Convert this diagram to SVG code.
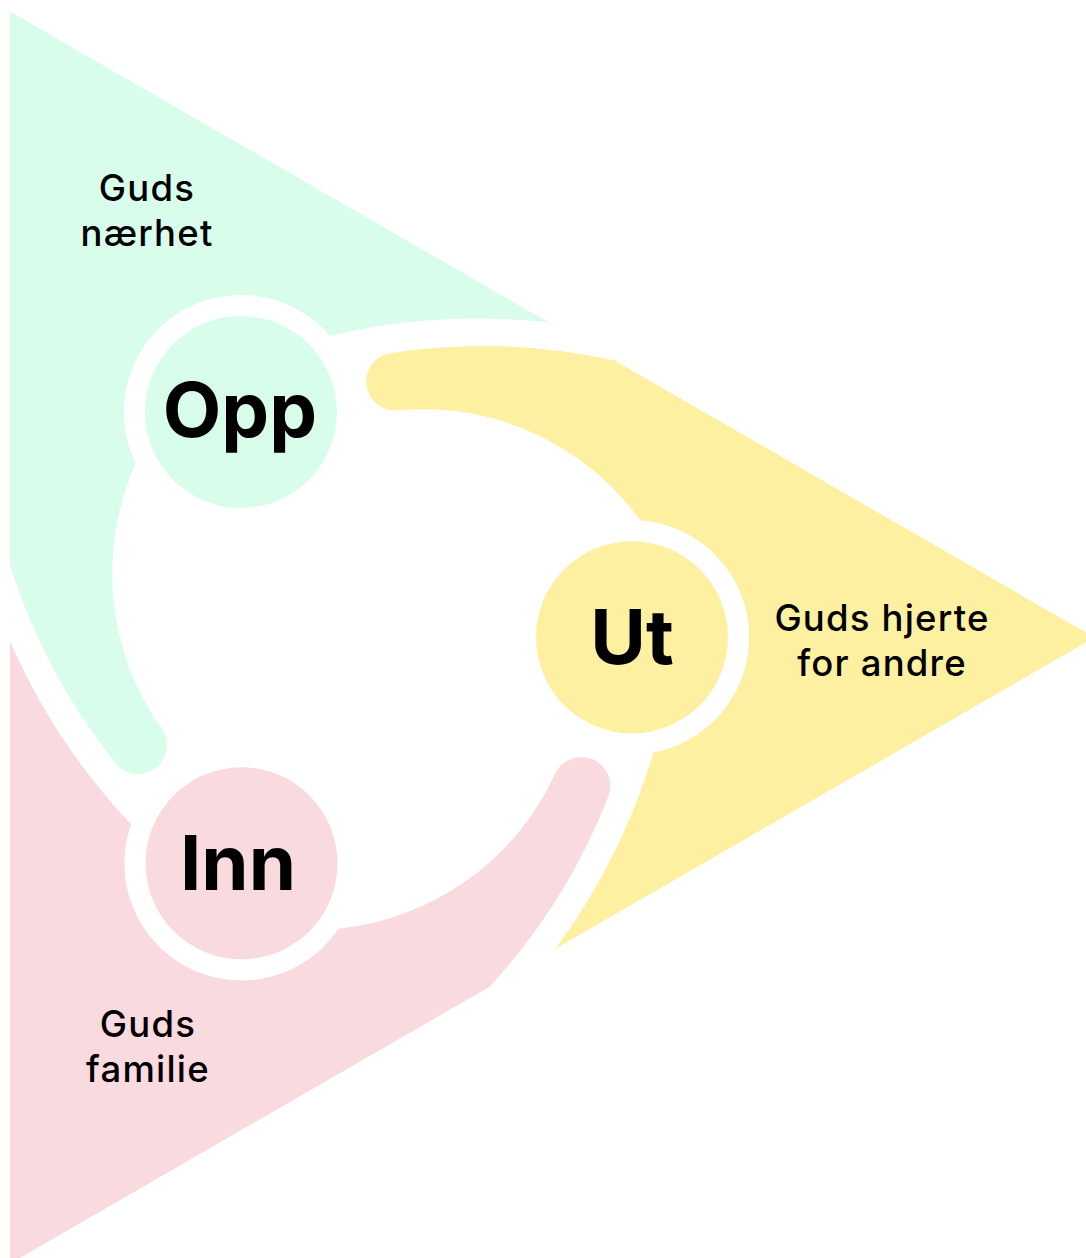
<svg xmlns="http://www.w3.org/2000/svg" width="1086" height="1258" viewBox="0 0 1086 1258">
  <style>
    .big { font-family: Inter, "Noto Sans", "Liberation Sans", sans-serif; font-weight: 700; font-size: 76px; fill: #000; text-anchor: middle; }
    .lbl { font-family: Inter, "Noto Sans", "Liberation Sans", sans-serif; font-weight: 500; font-size: 36.5px; letter-spacing: 1.2px; fill: #000; text-anchor: middle; }
    .ring { fill: #fff; }
    .green { fill: #D9FDEB; }
    .yellow { fill: #FEF0A1; }
    .pink { fill: #F9DADE; }
  </style>
  <defs>
    <path id="piece" d="M 10,11.4 L 549,322.6 A 636.5 636.5 0 0 0 329.8,335.9 A 117 117 0 0 0 135.8,463.3 A 268 268 0 0 0 161.6,728.3 A 29 29 0 0 1 155.3,768.3 A 29 29 0 0 1 115.3,762.9 A 609 609 0 0 1 10,565.3 Z"/>
  </defs>
  <rect width="1086" height="1258" fill="#fff"/>
  <g id="sectors">
    <g id="sector-opp"><use href="#piece" class="green"/></g>
    <g id="sector-ut"><use href="#piece" class="yellow" transform="rotate(120 371.5 637.5)"/></g>
    <g id="sector-inn"><use href="#piece" class="pink" transform="rotate(240 371.5 637.5)"/></g>
  </g>
  <g id="node-opp">
    <circle class="ring" cx="241" cy="412" r="117"/>
    <circle class="green" cx="241" cy="412" r="96"/>
    <text class="big" x="240" y="437">Opp</text>
  </g>
  <g id="node-ut">
    <circle class="ring" cx="632" cy="637.3" r="117"/>
    <circle class="yellow" cx="632" cy="637.3" r="96"/>
    <text class="big" x="632" y="664">Ut</text>
  </g>
  <g id="node-inn">
    <circle class="ring" cx="241.5" cy="863.3" r="117"/>
    <circle class="pink" cx="241.5" cy="863.3" r="96"/>
    <text class="big" x="238" y="890">Inn</text>
  </g>
  <g id="label-opp">
    <text class="lbl" x="147" y="201">Guds</text>
    <text class="lbl" x="147" y="246">nærhet</text>
  </g>
  <g id="label-ut">
    <text class="lbl" x="882" y="631">Guds hjerte</text>
    <text class="lbl" x="882" y="676">for andre</text>
  </g>
  <g id="label-inn">
    <text class="lbl" x="148" y="1037">Guds</text>
    <text class="lbl" x="148" y="1082">familie</text>
  </g>
</svg>
